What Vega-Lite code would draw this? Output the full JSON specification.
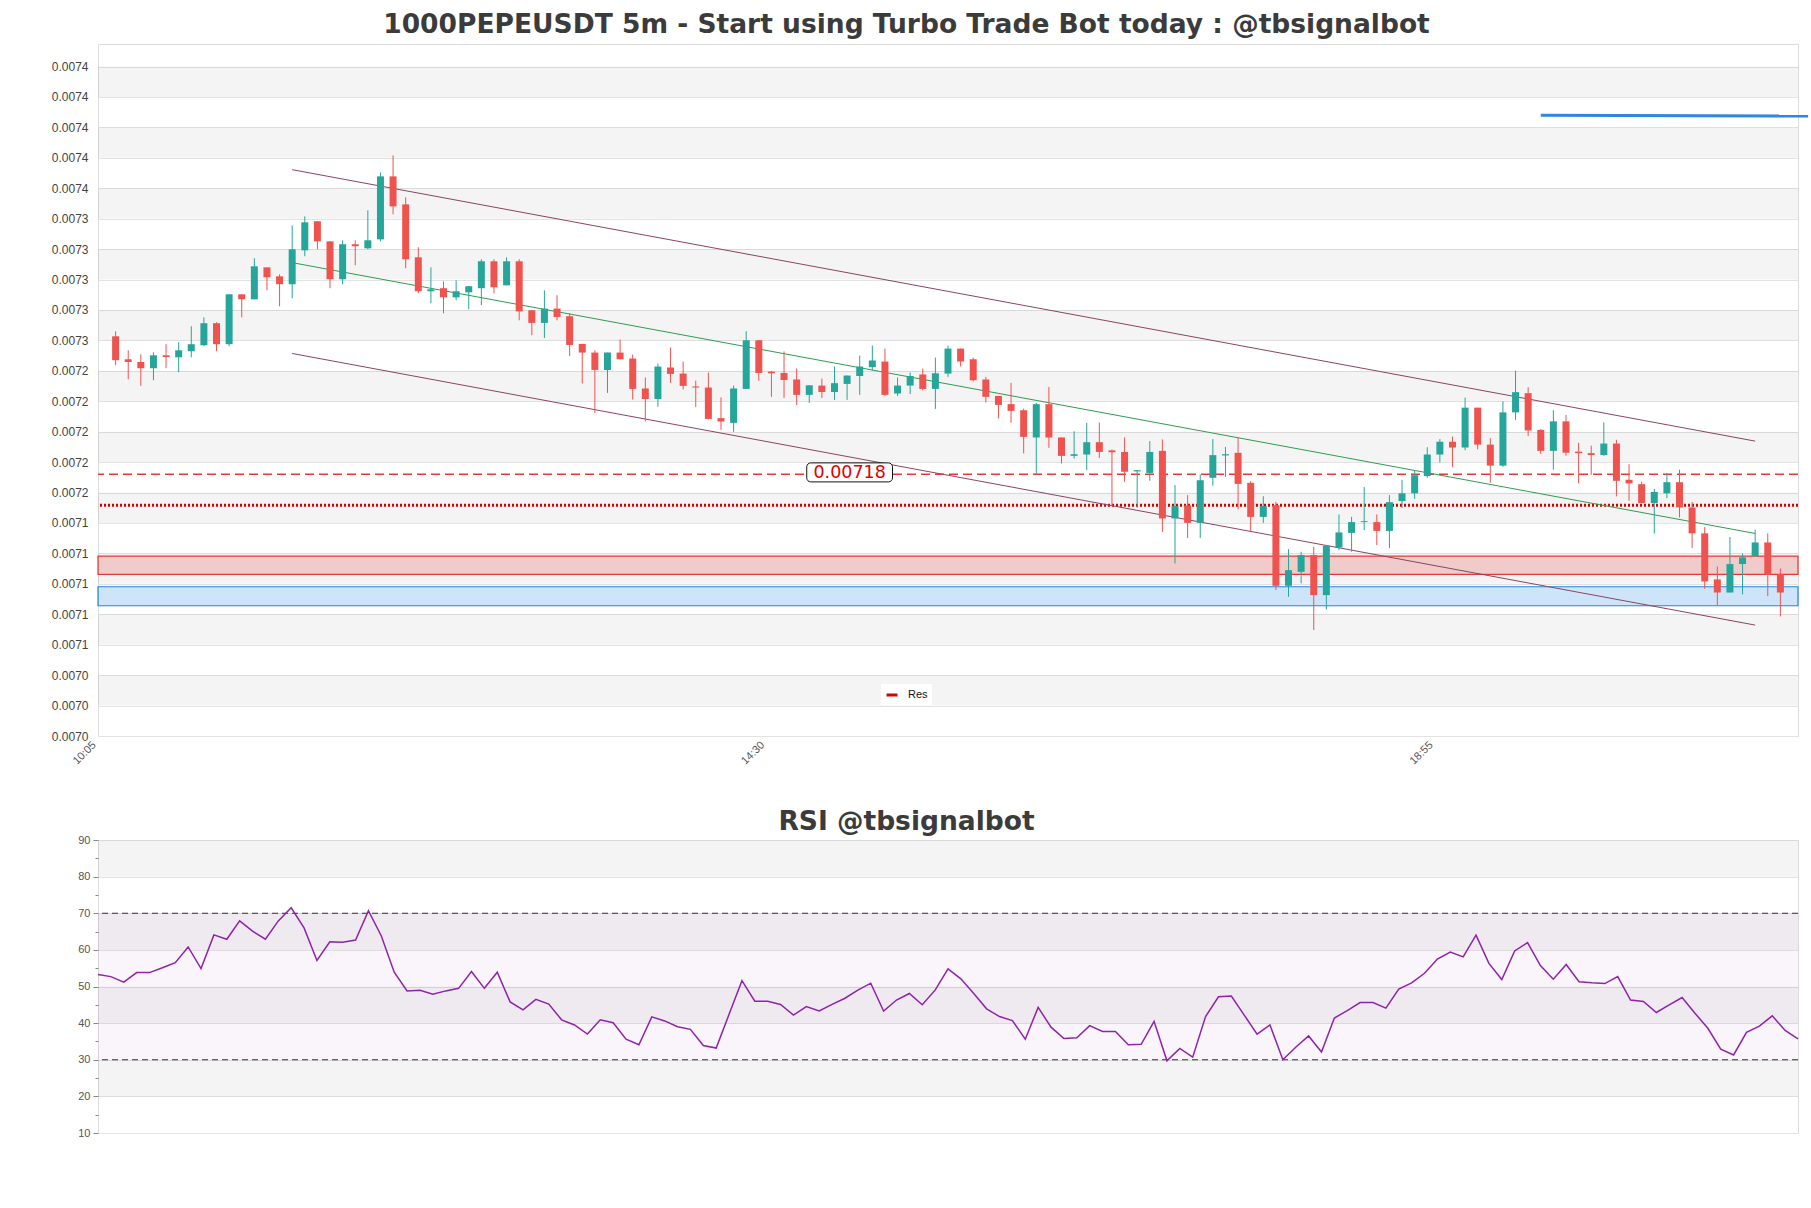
{
  "$schema": "https://vega.github.io/schema/vega-lite/v6.json",
  "background": "white",
  "padding": {"left": 47, "top": 11, "right": 5, "bottom": 5},
  "spacing": 41,
  "config": {
    "view": {"stroke": "#dcdcdc", "strokeWidth": 1},
    "axis": {"labelFont": "Liberation Sans", "labelColor": "#444", "gridColor": "#e3e3e3", "domain": false, "ticks": false, "labelOverlap": false},
    "title": {"font": "DejaVu Sans", "fontSize": 26.5, "fontWeight": "bold", "color": "#3b3b3b", "anchor": "middle"}
  },
  "datasets": {
    "k": [
      {"t":"2024-01-01T10:10","o":0.0072702,"h":0.0072735,"l":0.0072512,"c":0.0072545,"r":53.3},
      {"t":"2024-01-01T10:15","o":0.0072551,"h":0.0072610,"l":0.0072420,"c":0.0072533,"r":52.7},
      {"t":"2024-01-01T10:20","o":0.0072533,"h":0.0072584,"l":0.0072376,"c":0.0072492,"r":51.2},
      {"t":"2024-01-01T10:25","o":0.0072492,"h":0.0072597,"l":0.0072413,"c":0.0072577,"r":53.8},
      {"t":"2024-01-01T10:30","o":0.0072577,"h":0.0072650,"l":0.0072492,"c":0.0072566,"r":53.8},
      {"t":"2024-01-01T10:35","o":0.0072564,"h":0.0072663,"l":0.0072466,"c":0.0072610,"r":55.1},
      {"t":"2024-01-01T10:40","o":0.0072604,"h":0.0072768,"l":0.0072564,"c":0.0072650,"r":56.5},
      {"t":"2024-01-01T10:45","o":0.0072643,"h":0.0072827,"l":0.0072637,"c":0.0072788,"r":60.8},
      {"t":"2024-01-01T10:50","o":0.0072788,"h":0.0072794,"l":0.0072604,"c":0.0072650,"r":54.9},
      {"t":"2024-01-01T10:55","o":0.0072650,"h":0.0072978,"l":0.0072637,"c":0.0072978,"r":64.1},
      {"t":"2024-01-01T11:00","o":0.0072978,"h":0.0072978,"l":0.0072827,"c":0.0072945,"r":62.9},
      {"t":"2024-01-01T11:05","o":0.0072945,"h":0.0073215,"l":0.0072945,"c":0.0073162,"r":67.9},
      {"t":"2024-01-01T11:10","o":0.0073155,"h":0.0073155,"l":0.0073004,"c":0.0073090,"r":65.1},
      {"t":"2024-01-01T11:15","o":0.0073096,"h":0.0073109,"l":0.0072899,"c":0.0073044,"r":62.9},
      {"t":"2024-01-01T11:20","o":0.0073044,"h":0.0073431,"l":0.0072952,"c":0.0073274,"r":67.9},
      {"t":"2024-01-01T11:25","o":0.0073267,"h":0.0073490,"l":0.0073228,"c":0.0073451,"r":71.5},
      {"t":"2024-01-01T11:30","o":0.0073458,"h":0.0073458,"l":0.0073274,"c":0.0073326,"r":66.0},
      {"t":"2024-01-01T11:35","o":0.0073326,"h":0.0073326,"l":0.0073018,"c":0.0073077,"r":57.1},
      {"t":"2024-01-01T11:40","o":0.0073077,"h":0.0073333,"l":0.0073044,"c":0.0073307,"r":62.2},
      {"t":"2024-01-01T11:45","o":0.0073307,"h":0.0073333,"l":0.0073169,"c":0.0073293,"r":62.1},
      {"t":"2024-01-01T11:50","o":0.0073280,"h":0.0073530,"l":0.0073274,"c":0.0073333,"r":62.7},
      {"t":"2024-01-01T11:55","o":0.0073339,"h":0.0073779,"l":0.0073326,"c":0.0073753,"r":70.7},
      {"t":"2024-01-01T12:00","o":0.0073753,"h":0.0073891,"l":0.0073504,"c":0.0073556,"r":63.8},
      {"t":"2024-01-01T12:05","o":0.0073569,"h":0.0073615,"l":0.0073149,"c":0.0073208,"r":53.9},
      {"t":"2024-01-01T12:10","o":0.0073221,"h":0.0073287,"l":0.0072985,"c":0.0072998,"r":48.8},
      {"t":"2024-01-01T12:15","o":0.0072998,"h":0.0073155,"l":0.0072919,"c":0.0073011,"r":49.0},
      {"t":"2024-01-01T12:20","o":0.0073018,"h":0.0073063,"l":0.0072853,"c":0.0072958,"r":47.9},
      {"t":"2024-01-01T12:25","o":0.0072958,"h":0.0073070,"l":0.0072939,"c":0.0072998,"r":48.8},
      {"t":"2024-01-01T12:30","o":0.0072991,"h":0.0073031,"l":0.0072880,"c":0.0073031,"r":49.5},
      {"t":"2024-01-01T12:35","o":0.0073018,"h":0.0073208,"l":0.0072906,"c":0.0073195,"r":54.1},
      {"t":"2024-01-01T12:40","o":0.0073195,"h":0.0073208,"l":0.0072985,"c":0.0073024,"r":49.5},
      {"t":"2024-01-01T12:45","o":0.0073037,"h":0.0073221,"l":0.0073037,"c":0.0073195,"r":53.9},
      {"t":"2024-01-01T12:50","o":0.0073195,"h":0.0073208,"l":0.0072807,"c":0.0072866,"r":45.8},
      {"t":"2024-01-01T12:55","o":0.0072873,"h":0.0072873,"l":0.0072709,"c":0.0072790,"r":43.6},
      {"t":"2024-01-01T13:00","o":0.0072790,"h":0.0073004,"l":0.0072691,"c":0.0072884,"r":46.5},
      {"t":"2024-01-01T13:05","o":0.0072884,"h":0.0072972,"l":0.0072807,"c":0.0072829,"r":45.2},
      {"t":"2024-01-01T13:10","o":0.0072834,"h":0.0072853,"l":0.0072573,"c":0.0072645,"r":40.9},
      {"t":"2024-01-01T13:15","o":0.0072652,"h":0.0072652,"l":0.0072392,"c":0.0072595,"r":39.5},
      {"t":"2024-01-01T13:20","o":0.0072595,"h":0.0072610,"l":0.0072198,"c":0.0072481,"r":37.0},
      {"t":"2024-01-01T13:25","o":0.0072481,"h":0.0072595,"l":0.0072330,"c":0.0072595,"r":40.9},
      {"t":"2024-01-01T13:30","o":0.0072595,"h":0.0072681,"l":0.0072551,"c":0.0072551,"r":40.1},
      {"t":"2024-01-01T13:35","o":0.0072556,"h":0.0072582,"l":0.0072286,"c":0.0072356,"r":35.6},
      {"t":"2024-01-01T13:40","o":0.0072359,"h":0.0072431,"l":0.0072142,"c":0.0072290,"r":34.1},
      {"t":"2024-01-01T13:45","o":0.0072290,"h":0.0072523,"l":0.0072238,"c":0.0072503,"r":41.7},
      {"t":"2024-01-01T13:50","o":0.0072497,"h":0.0072628,"l":0.0072396,"c":0.0072455,"r":40.6},
      {"t":"2024-01-01T13:55","o":0.0072457,"h":0.0072536,"l":0.0072352,"c":0.0072376,"r":39.0},
      {"t":"2024-01-01T14:00","o":0.0072372,"h":0.0072411,"l":0.0072238,"c":0.0072365,"r":38.3},
      {"t":"2024-01-01T14:05","o":0.0072365,"h":0.0072464,"l":0.0072155,"c":0.0072159,"r":33.9},
      {"t":"2024-01-01T14:10","o":0.0072164,"h":0.0072300,"l":0.0072087,"c":0.0072142,"r":33.2},
      {"t":"2024-01-01T14:15","o":0.0072133,"h":0.0072378,"l":0.0072074,"c":0.0072359,"r":42.4},
      {"t":"2024-01-01T14:20","o":0.0072356,"h":0.0072735,"l":0.0072356,"c":0.0072676,"r":51.6},
      {"t":"2024-01-01T14:25","o":0.0072676,"h":0.0072676,"l":0.0072409,"c":0.0072461,"r":46.0},
      {"t":"2024-01-01T14:30","o":0.0072470,"h":0.0072474,"l":0.0072304,"c":0.0072459,"r":46.0},
      {"t":"2024-01-01T14:35","o":0.0072461,"h":0.0072602,"l":0.0072297,"c":0.0072415,"r":45.1},
      {"t":"2024-01-01T14:40","o":0.0072418,"h":0.0072490,"l":0.0072251,"c":0.0072317,"r":42.2},
      {"t":"2024-01-01T14:45","o":0.0072317,"h":0.0072380,"l":0.0072264,"c":0.0072380,"r":44.5},
      {"t":"2024-01-01T14:50","o":0.0072378,"h":0.0072424,"l":0.0072297,"c":0.0072336,"r":43.3},
      {"t":"2024-01-01T14:55","o":0.0072336,"h":0.0072503,"l":0.0072284,"c":0.0072394,"r":45.1},
      {"t":"2024-01-01T15:00","o":0.0072389,"h":0.0072444,"l":0.0072284,"c":0.0072444,"r":46.8},
      {"t":"2024-01-01T15:05","o":0.0072441,"h":0.0072575,"l":0.0072317,"c":0.0072503,"r":49.0},
      {"t":"2024-01-01T15:10","o":0.0072499,"h":0.0072641,"l":0.0072477,"c":0.0072543,"r":50.9},
      {"t":"2024-01-01T15:15","o":0.0072536,"h":0.0072621,"l":0.0072310,"c":0.0072317,"r":43.3},
      {"t":"2024-01-01T15:20","o":0.0072326,"h":0.0072431,"l":0.0072310,"c":0.0072378,"r":46.3},
      {"t":"2024-01-01T15:25","o":0.0072378,"h":0.0072464,"l":0.0072323,"c":0.0072441,"r":48.1},
      {"t":"2024-01-01T15:30","o":0.0072451,"h":0.0072490,"l":0.0072346,"c":0.0072356,"r":45.0},
      {"t":"2024-01-01T15:35","o":0.0072356,"h":0.0072562,"l":0.0072225,"c":0.0072459,"r":49.0},
      {"t":"2024-01-01T15:40","o":0.0072457,"h":0.0072641,"l":0.0072435,"c":0.0072621,"r":54.8},
      {"t":"2024-01-01T15:45","o":0.0072621,"h":0.0072621,"l":0.0072503,"c":0.0072536,"r":52.1},
      {"t":"2024-01-01T15:50","o":0.0072551,"h":0.0072562,"l":0.0072405,"c":0.0072413,"r":48.1},
      {"t":"2024-01-01T15:55","o":0.0072418,"h":0.0072435,"l":0.0072267,"c":0.0072304,"r":43.9},
      {"t":"2024-01-01T16:00","o":0.0072310,"h":0.0072310,"l":0.0072162,"c":0.0072251,"r":41.8},
      {"t":"2024-01-01T16:05","o":0.0072256,"h":0.0072396,"l":0.0072133,"c":0.0072212,"r":40.7},
      {"t":"2024-01-01T16:10","o":0.0072216,"h":0.0072227,"l":0.0071932,"c":0.0072041,"r":35.6},
      {"t":"2024-01-01T16:15","o":0.0072037,"h":0.0072264,"l":0.0071794,"c":0.0072256,"r":44.3},
      {"t":"2024-01-01T16:20","o":0.0072256,"h":0.0072369,"l":0.0071969,"c":0.0072037,"r":38.9},
      {"t":"2024-01-01T16:25","o":0.0072037,"h":0.0072037,"l":0.0071866,"c":0.0071916,"r":35.8},
      {"t":"2024-01-01T16:30","o":0.0071916,"h":0.0072078,"l":0.0071899,"c":0.0071927,"r":36.0},
      {"t":"2024-01-01T16:35","o":0.0071925,"h":0.0072133,"l":0.0071822,"c":0.0072006,"r":39.3},
      {"t":"2024-01-01T16:40","o":0.0072006,"h":0.0072135,"l":0.0071903,"c":0.0071942,"r":37.7},
      {"t":"2024-01-01T16:45","o":0.0071952,"h":0.0071958,"l":0.0071586,"c":0.0071940,"r":37.7},
      {"t":"2024-01-01T16:50","o":0.0071942,"h":0.0072037,"l":0.0071745,"c":0.0071811,"r":34.1},
      {"t":"2024-01-01T16:55","o":0.0071814,"h":0.0071822,"l":0.0071575,"c":0.0071822,"r":34.2},
      {"t":"2024-01-01T17:00","o":0.0071804,"h":0.0072013,"l":0.0071752,"c":0.0071942,"r":40.5},
      {"t":"2024-01-01T17:05","o":0.0071949,"h":0.0072024,"l":0.0071417,"c":0.0071505,"r":29.7},
      {"t":"2024-01-01T17:10","o":0.0071505,"h":0.0071724,"l":0.0071209,"c":0.0071586,"r":33.1},
      {"t":"2024-01-01T17:15","o":0.0071590,"h":0.0071658,"l":0.0071377,"c":0.0071476,"r":30.7},
      {"t":"2024-01-01T17:20","o":0.0071476,"h":0.0071794,"l":0.0071377,"c":0.0071756,"r":41.8},
      {"t":"2024-01-01T17:25","o":0.0071772,"h":0.0072026,"l":0.0071719,"c":0.0071921,"r":47.2},
      {"t":"2024-01-01T17:30","o":0.0071919,"h":0.0071975,"l":0.0071778,"c":0.0071927,"r":47.4},
      {"t":"2024-01-01T17:35","o":0.0071936,"h":0.0072037,"l":0.0071564,"c":0.0071732,"r":42.2},
      {"t":"2024-01-01T17:40","o":0.0071739,"h":0.0071750,"l":0.0071421,"c":0.0071515,"r":37.0},
      {"t":"2024-01-01T17:45","o":0.0071515,"h":0.0071651,"l":0.0071476,"c":0.0071586,"r":39.5},
      {"t":"2024-01-01T17:50","o":0.0071592,"h":0.0071614,"l":0.0071034,"c":0.0071062,"r":30.0},
      {"t":"2024-01-01T17:55","o":0.0071062,"h":0.0071303,"l":0.0070990,"c":0.0071165,"r":33.4},
      {"t":"2024-01-01T18:00","o":0.0071154,"h":0.0071286,"l":0.0071078,"c":0.0071264,"r":36.5},
      {"t":"2024-01-01T18:05","o":0.0071264,"h":0.0071318,"l":0.0070771,"c":0.0071001,"r":32.1},
      {"t":"2024-01-01T18:10","o":0.0071001,"h":0.0071330,"l":0.0070907,"c":0.0071325,"r":41.4},
      {"t":"2024-01-01T18:15","o":0.0071314,"h":0.0071531,"l":0.0071297,"c":0.0071413,"r":43.4},
      {"t":"2024-01-01T18:20","o":0.0071410,"h":0.0071515,"l":0.0071286,"c":0.0071481,"r":45.6},
      {"t":"2024-01-01T18:25","o":0.0071481,"h":0.0071712,"l":0.0071428,"c":0.0071487,"r":45.6},
      {"t":"2024-01-01T18:30","o":0.0071481,"h":0.0071531,"l":0.0071330,"c":0.0071423,"r":44.1},
      {"t":"2024-01-01T18:35","o":0.0071423,"h":0.0071658,"l":0.0071310,"c":0.0071612,"r":49.3},
      {"t":"2024-01-01T18:40","o":0.0071619,"h":0.0071759,"l":0.0071573,"c":0.0071670,"r":51.0},
      {"t":"2024-01-01T18:45","o":0.0071670,"h":0.0071820,"l":0.0071633,"c":0.0071789,"r":53.6},
      {"t":"2024-01-01T18:50","o":0.0071783,"h":0.0071973,"l":0.0071772,"c":0.0071925,"r":57.5},
      {"t":"2024-01-01T18:55","o":0.0071925,"h":0.0072026,"l":0.0071873,"c":0.0072009,"r":59.4},
      {"t":"2024-01-01T19:00","o":0.0072009,"h":0.0072043,"l":0.0071844,"c":0.0071971,"r":58.1},
      {"t":"2024-01-01T19:05","o":0.0071971,"h":0.0072299,"l":0.0071953,"c":0.0072233,"r":64.0},
      {"t":"2024-01-01T19:10","o":0.0072233,"h":0.0072233,"l":0.0071959,"c":0.0071990,"r":56.3},
      {"t":"2024-01-01T19:15","o":0.0071990,"h":0.0072032,"l":0.0071740,"c":0.0071852,"r":51.9},
      {"t":"2024-01-01T19:20","o":0.0071852,"h":0.0072275,"l":0.0071844,"c":0.0072202,"r":59.7},
      {"t":"2024-01-01T19:25","o":0.0072202,"h":0.0072476,"l":0.0072153,"c":0.0072335,"r":62.0},
      {"t":"2024-01-01T19:30","o":0.0072328,"h":0.0072367,"l":0.0072046,"c":0.0072083,"r":55.7},
      {"t":"2024-01-01T19:35","o":0.0072087,"h":0.0072092,"l":0.0071929,"c":0.0071949,"r":52.0},
      {"t":"2024-01-01T19:40","o":0.0071949,"h":0.0072216,"l":0.0071825,"c":0.0072143,"r":56.0},
      {"t":"2024-01-01T19:45","o":0.0072143,"h":0.0072185,"l":0.0071917,"c":0.0071937,"r":51.3},
      {"t":"2024-01-01T19:50","o":0.0071944,"h":0.0072002,"l":0.0071735,"c":0.0071934,"r":51.0},
      {"t":"2024-01-01T19:55","o":0.0071934,"h":0.0071983,"l":0.0071791,"c":0.0071922,"r":50.8},
      {"t":"2024-01-01T20:00","o":0.0071922,"h":0.0072136,"l":0.0071917,"c":0.0071997,"r":52.7},
      {"t":"2024-01-01T20:05","o":0.0071997,"h":0.0072022,"l":0.0071650,"c":0.0071752,"r":46.3},
      {"t":"2024-01-01T20:10","o":0.0071759,"h":0.0071861,"l":0.0071621,"c":0.0071735,"r":45.9},
      {"t":"2024-01-01T20:15","o":0.0071730,"h":0.0071747,"l":0.0071606,"c":0.0071606,"r":42.9},
      {"t":"2024-01-01T20:20","o":0.0071606,"h":0.0071699,"l":0.0071407,"c":0.0071679,"r":45.0},
      {"t":"2024-01-01T20:25","o":0.0071670,"h":0.0071803,"l":0.0071638,"c":0.0071743,"r":47.0},
      {"t":"2024-01-01T20:30","o":0.0071743,"h":0.0071825,"l":0.0071511,"c":0.0071577,"r":42.7},
      {"t":"2024-01-01T20:35","o":0.0071577,"h":0.0071613,"l":0.0071310,"c":0.0071407,"r":38.6},
      {"t":"2024-01-01T20:40","o":0.0071407,"h":0.0071448,"l":0.0071042,"c":0.0071091,"r":32.9},
      {"t":"2024-01-01T20:45","o":0.0071104,"h":0.0071188,"l":0.0070933,"c":0.0071018,"r":31.3},
      {"t":"2024-01-01T20:50","o":0.0071018,"h":0.0071383,"l":0.0071018,"c":0.0071205,"r":37.5},
      {"t":"2024-01-01T20:55","o":0.0071205,"h":0.0071274,"l":0.0071006,"c":0.0071249,"r":39.2},
      {"t":"2024-01-01T21:00","o":0.0071257,"h":0.0071431,"l":0.0071257,"c":0.0071347,"r":42.0},
      {"t":"2024-01-01T21:05","o":0.0071347,"h":0.0071407,"l":0.0070994,"c":0.0071135,"r":38.0},
      {"t":"2024-01-01T21:10","o":0.0071140,"h":0.0071176,"l":0.0070861,"c":0.0071018,"r":35.7}
    ]
  },
  "vconcat": [
    {
      "width": 1700,
      "height": 692,
      "title": {"text": "1000PEPEUSDT 5m - Start using Turbo Trade Bot today : @tbsignalbot", "dx": -41.5, "offset": 6},
      "layer": [
        {
          "data": {"values": [
            {"a":0.0074475,"b":0.0074275},{"a":0.0074075,"b":0.0073875},{"a":0.0073675,"b":0.0073475},
            {"a":0.0073275,"b":0.0073075},{"a":0.0072875,"b":0.0072675},{"a":0.0072475,"b":0.0072275},
            {"a":0.0072075,"b":0.0071875},{"a":0.0071675,"b":0.0071475},{"a":0.0071275,"b":0.0071075},
            {"a":0.0070875,"b":0.0070675},{"a":0.0070475,"b":0.0070275}
          ]},
          "mark": {"type": "rect", "fill": "black", "fillOpacity": 0.045},
          "encoding": {
            "y": {"field": "a", "type": "quantitative",
              "scale": {"domain": [0.0070075, 0.0074623], "nice": false, "zero": false},
              "axis": {"title": null, "format": ".4f", "labelFontSize": 12, "labelPadding": 10, "grid": true, "minExtent": 50, "maxExtent": 50, "labelOverlap": false, "tickCount": 40,
                "values": [0.0070075,0.0070275,0.0070475,0.0070675,0.0070875,0.0071075,0.0071275,0.0071475,0.0071675,0.0071875,0.0072075,0.0072275,0.0072475,0.0072675,0.0072875,0.0073075,0.0073275,0.0073475,0.0073675,0.0073875,0.0074075,0.0074275,0.0074475]}},
            "y2": {"field": "b"}
          }
        },
        {
          "data": {"values": [{"a": 0.0071257, "b": 0.0071137}]},
          "mark": {"type": "rect", "fill": "#e53935", "fillOpacity": 0.22, "stroke": "#e53935", "strokeWidth": 1.2},
          "encoding": {"y": {"field": "a", "type": "quantitative"}, "y2": {"field": "b"}}
        },
        {
          "data": {"values": [{"a": 0.0071056, "b": 0.0070931}]},
          "mark": {"type": "rect", "fill": "#1e88e5", "fillOpacity": 0.22, "stroke": "#1e88e5", "strokeWidth": 1.2},
          "encoding": {"y": {"field": "a", "type": "quantitative"}, "y2": {"field": "b"}}
        },
        {
          "data": {"values": [{"p": 0.0071796}]},
          "mark": {"type": "rule", "color": "#e53935", "strokeDash": [9, 5], "strokeWidth": 1.5},
          "encoding": {"y": {"field": "p", "type": "quantitative"}}
        },
        {
          "data": {"values": [{"p": 0.0071592, "name": "Res"}]},
          "mark": {"type": "rule", "strokeDash": [2, 2], "strokeWidth": 3},
          "encoding": {
            "y": {"field": "p", "type": "quantitative"},
            "color": {"field": "name", "type": "nominal", "scale": {"domain": ["Res"], "range": ["#d50000"]},
              "legend": {"orient": "none", "legendX": 783, "legendY": 640, "title": null, "symbolType": "stroke", "symbolStrokeWidth": 3, "symbolSize": 120, "symbolDash": [1, 0],
                "labelFont": "Liberation Sans", "labelFontSize": 11, "labelColor": "#111", "fillColor": "white", "padding": 4, "labelOffset": 9}}
          }
        },
        {
          "data": {"values": [
            {"g": "u", "t": "2024-01-01T11:20", "p": 0.0073797},
            {"g": "u", "t": "2024-01-01T21:00", "p": 0.0072013},
            {"g": "m", "t": "2024-01-01T11:20", "p": 0.0073186},
            {"g": "m", "t": "2024-01-01T21:00", "p": 0.0071406},
            {"g": "l", "t": "2024-01-01T11:20", "p": 0.0072589},
            {"g": "l", "t": "2024-01-01T21:00", "p": 0.0070804}
          ]},
          "mark": {"type": "line", "strokeWidth": 1},
          "encoding": {
            "x": {"field": "t", "type": "temporal"},
            "y": {"field": "p", "type": "quantitative"},
            "detail": {"field": "g"},
            "stroke": {"field": "g", "type": "nominal", "scale": {"domain": ["u", "m", "l"], "range": ["#8b4560", "#2e9e4f", "#8b4560"]}, "legend": null}
          }
        },
        {
          "data": {"name": "k"},
          "mark": {"type": "rule", "strokeWidth": 1},
          "encoding": {
            "x": {"field": "t", "type": "temporal",
              "scale": {"domain": [{"year": 2024, "month": 1, "date": 1, "hours": 10, "minutes": 5}, {"year": 2024, "month": 1, "date": 1, "hours": 21, "minutes": 15}]},
              "axis": {"title": null, "grid": false, "format": "%H:%M", "labelAngle": -45, "labelBaseline": "middle", "labelAlign": "right", "labelFontSize": 11, "labelColor": "#555", "labelPadding": 7, "labelOffset": -9,
                "values": [{"year": 2024, "month": 1, "date": 1, "hours": 10, "minutes": 5}, {"year": 2024, "month": 1, "date": 1, "hours": 14, "minutes": 30}, {"year": 2024, "month": 1, "date": 1, "hours": 18, "minutes": 55}]}},
            "y": {"field": "l", "type": "quantitative"},
            "y2": {"field": "h"},
            "color": {"condition": {"test": "datum.c >= datum.o", "value": "#26a69a"}, "value": "#ef5350"}
          }
        },
        {
          "data": {"name": "k"},
          "mark": {"type": "bar", "width": 7},
          "encoding": {
            "x": {"field": "t", "type": "temporal"},
            "y": {"field": "o", "type": "quantitative"},
            "y2": {"field": "c"},
            "color": {"condition": {"test": "datum.c >= datum.o", "value": "#26a69a"}, "value": "#ef5350"}
          }
        },
        {
          "data": {"values": [{"t": "2024-01-01T19:35", "p": 0.0074154}, {"t": "2024-01-01T21:21", "p": 0.007415}]},
          "mark": {"type": "line", "color": "#2f86de", "strokeWidth": 3, "clip": false},
          "encoding": {"x": {"field": "t", "type": "temporal"}, "y": {"field": "p", "type": "quantitative"}}
        },
        {
          "data": {"values": [{"t1": "2024-01-01T14:44", "t2": "2024-01-01T15:18", "a": 0.007187, "b": 0.0071745}]},
          "mark": {"type": "rect", "fill": "white", "stroke": "#111", "strokeWidth": 1, "cornerRadius": 4},
          "encoding": {"x": {"field": "t1", "type": "temporal"}, "x2": {"field": "t2"}, "y": {"field": "a", "type": "quantitative"}, "y2": {"field": "b"}}
        },
        {
          "data": {"values": [{"t": "2024-01-01T15:01", "p": 0.00718, "s": "0.00718"}]},
          "mark": {"type": "text", "font": "DejaVu Sans", "fontSize": 17.5, "color": "#e00000", "align": "center", "baseline": "middle", "dy": -1},
          "encoding": {"x": {"field": "t", "type": "temporal"}, "y": {"field": "p", "type": "quantitative"}, "text": {"field": "s"}}
        }
      ]
    },
    {
      "width": 1700,
      "height": 293,
      "title": {"text": "RSI @tbsignalbot", "dx": -41.5, "offset": -1},
      "layer": [
        {
          "data": {"values": [{"a": 80, "b": 90}, {"a": 60, "b": 70}, {"a": 40, "b": 50}, {"a": 20, "b": 30}]},
          "mark": {"type": "rect", "fill": "black", "fillOpacity": 0.045},
          "encoding": {
            "y": {"field": "a", "type": "quantitative", "scale": {"domain": [10, 90], "nice": false, "zero": false},
              "axis": {"title": null, "values": [10,15,20,25,30,35,40,45,50,55,60,65,70,75,80,85,90], "tickCount": 40,
                "labelExpr": "datum.value % 10 == 0 ? datum.label : ''", "labelOverlap": false,
                "ticks": true, "tickColor": "#888",
                "tickSize": {"condition": {"test": "datum.value % 10 == 0", "value": 5}, "value": 3},
                "labelFontSize": 11, "labelColor": "#555", "labelPadding": 3, "grid": true,
                "gridOpacity": {"condition": {"test": "datum.value % 10 == 0", "value": 1}, "value": 0},
                "minExtent": 50, "maxExtent": 50}},
            "y2": {"field": "b"}
          }
        },
        {
          "data": {"values": [{"a": 30, "b": 70}]},
          "mark": {"type": "rect", "fill": "#9c27b0", "fillOpacity": 0.05},
          "encoding": {"y": {"field": "a", "type": "quantitative"}, "y2": {"field": "b"}}
        },
        {
          "data": {"values": [{"v": 70}, {"v": 30}]},
          "mark": {"type": "rule", "color": "#333", "strokeDash": [6, 4], "strokeWidth": 1.2},
          "encoding": {"y": {"field": "v", "type": "quantitative"}}
        },
        {
          "data": {"name": "k"},
          "mark": {"type": "line", "color": "#8e24aa", "strokeWidth": 1.5},
          "encoding": {
            "x": {"field": "t", "type": "temporal", "axis": null,
              "scale": {"domain": [{"year": 2024, "month": 1, "date": 1, "hours": 10, "minutes": 10}, {"year": 2024, "month": 1, "date": 1, "hours": 21, "minutes": 10}]}},
            "y": {"field": "r", "type": "quantitative"}
          }
        }
      ]
    }
  ]
}
